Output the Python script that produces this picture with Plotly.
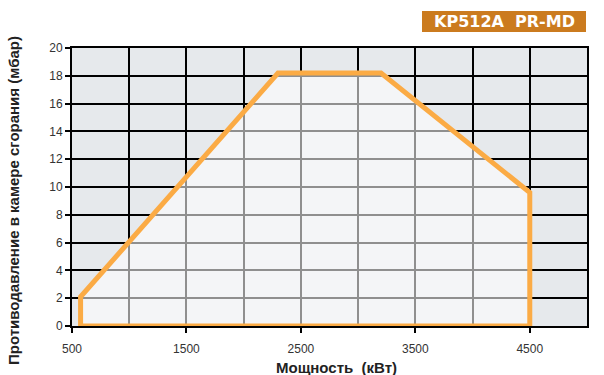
import plotly.graph_objects as go

# Working field polygon (power kW, back pressure mbar)
power_kw = [575, 575, 2300, 3200, 4500, 4500, 575]
pressure_mbar = [0, 2.1, 18.2, 18.2, 9.6, 0, 0]

x_ticks = [500, 1500, 2500, 3500, 4500]
y_ticks = [0, 2, 4, 6, 8, 10, 12, 14, 16, 18, 20]

title_text = "KP512A  PR-MD"
x_title = "Мощность  (кВт)"
y_title = "Противодавление в камере сгорания (мбар)"

L, R, T, B = 72, 17, 48, 49
W, H = 604, 375
pw, ph = W - L - R, H - T - B

def px_x(p):
    return (p - L) / pw

def px_y(p):
    return (H - B - p) / ph

FONT = "Liberation Sans"

fig = go.Figure()
fig.add_trace(go.Scatter(
    x=power_kw, y=pressure_mbar, mode="lines", fill="toself",
    fillcolor="rgba(255,255,255,0.56)",
    line=dict(color="#fbab45", width=5), hoverinfo="skip", showlegend=False,
))

tickfont = dict(family=FONT, size=12, color="#333333")

fig.update_layout(
    width=W, height=H,
    margin=dict(l=L, r=R, t=T, b=B),
    paper_bgcolor="white",
    plot_bgcolor="#e6e9ec",
    showlegend=False,
    xaxis=dict(
        range=[500, 5000], tickvals=x_ticks, automargin=False,
        showgrid=True, gridcolor="black", gridwidth=2,
        minor=dict(tick0=500, dtick=500, showgrid=True, gridcolor="black", gridwidth=2, ticks=""),
        showline=True, linecolor="black", linewidth=2, mirror=True,
        ticks="outside", ticklen=5, tickwidth=2, tickcolor="black",
        ticklabelstandoff=6, tickfont=tickfont, zeroline=False,
    ),
    yaxis=dict(
        range=[0, 20], tickvals=y_ticks, automargin=False,
        showgrid=True, gridcolor="black", gridwidth=2,
        showline=True, linecolor="black", linewidth=2, mirror=True,
        ticks="outside", ticklen=5, tickwidth=2, tickcolor="black",
        tickfont=tickfont, zeroline=False,
    ),
    shapes=[dict(
        type="rect", xref="paper", yref="paper",
        x0=px_x(422), x1=px_x(586), y0=px_y(32), y1=px_y(11),
        fillcolor="#cb7b1f", line=dict(width=0), layer="above",
    )],
    annotations=[
        dict(text=title_text, xref="paper", yref="paper",
             x=(px_x(422) + px_x(586)) / 2, y=(px_y(32) + px_y(11)) / 2,
             xanchor="center", yanchor="middle", showarrow=False,
             font=dict(family="DejaVu Sans", size=16, color="white", weight="bold")),
        dict(text=f"<b>{x_title}</b>", xref="paper", yref="paper",
             x=px_x(336), y=px_y(367), xanchor="center", yanchor="middle", showarrow=False,
             font=dict(family=FONT, size=15, color="#222222")),
        dict(text=f"<b>{y_title}</b>", xref="paper", yref="paper", textangle=-90,
             x=px_x(13), y=px_y(201), xanchor="center", yanchor="middle", showarrow=False,
             font=dict(family=FONT, size=15, color="#222222")),
    ],
)

fig.write_html("out.html", config={"displayModeBar": False},
               post_script="document.body.style.margin='0';document.body.style.padding='0';")
